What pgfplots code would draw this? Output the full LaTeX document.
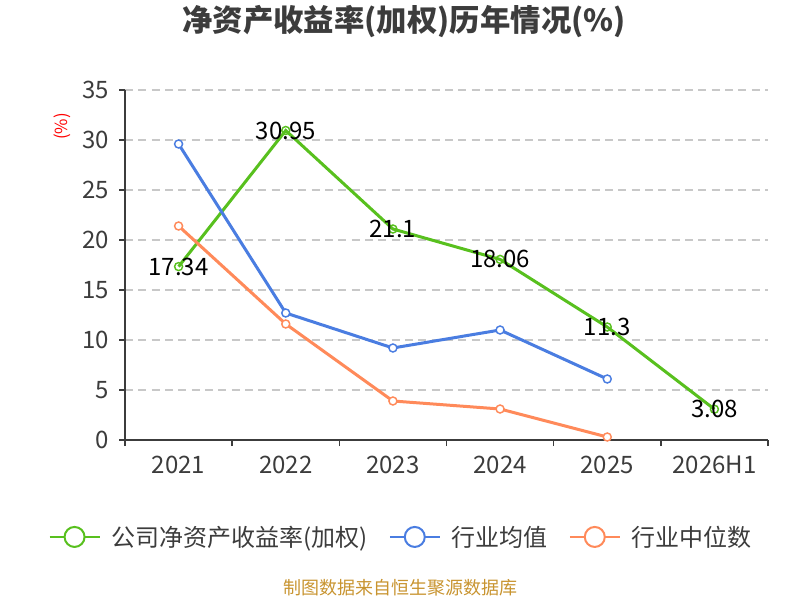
\documentclass[border=0pt]{standalone}
\usepackage{pgfplots}
\pgfplotsset{compat=1.18}
\usepackage{fontspec}
\setmainfont{Noto Sans CJK SC}
\definecolor{cgreen}{RGB}{88,192,30}
\definecolor{cblue}{RGB}{74,125,225}
\definecolor{corange}{RGB}{255,138,90}
\definecolor{ctext}{RGB}{60,60,60}
\definecolor{ctitle}{RGB}{60,60,60}
\definecolor{cgrid}{RGB}{200,200,200}
\definecolor{cfoot}{RGB}{200,148,48}
\begin{document}
\begin{tikzpicture}[x=1pt,y=1pt]
\path[use as bounding box] (0,0) rectangle (600,450);
\node[font=\fontsize{22.8}{27}\selectfont\bfseries, text=ctitle] at (303,433.5) {净资产收益率(加权)历年情况(\%)};
\node[rotate=90, text=red, font=\fontsize{12.5}{15}\selectfont] at (47,355) {(\%)};
\node[text=cfoot, font=\fontsize{13.5}{16}\selectfont] at (300,9) {制图数据来自恒生聚源数据库};
\begin{axis}[
  at={(93.75pt,120pt)}, anchor=south west,
  scale only axis, width=482.25pt, height=262.5pt,
  xmin=-0.5, xmax=5.5, ymin=0, ymax=35,
  axis x line*=bottom, axis y line*=left,
  axis line style={draw=ctext, line width=1.1pt},
  xtick={-0.5,0.5,...,5.5},
  xticklabels={2021,2022,2023,2024,2025,2026H1},
  x tick label as interval=true,
  ytick={0,5,...,35},
  tick align=outside,
  major tick length=4.5pt,
  tick style={draw=ctext, line width=1.1pt},
  ymajorgrids,
  grid style={draw=cgrid, line width=1.1pt, dash pattern=on 6pt off 4pt},
  ticklabel style={font=\fontsize{18}{21}\selectfont, text=ctext},
  /pgf/number format/assume math mode=true,
  xticklabel style={yshift=-4pt},
  yticklabel style={xshift=-4pt},
  every axis plot/.append style={line width=2.25pt},
  legend columns=3,
  legend image code/.code={
    \draw[line width=1.5pt] (0pt,0pt) -- (37.5pt,0pt);
    \draw[line width=1.5pt, fill=white] (18.75pt,0pt) circle (7.5pt);
  },
  legend style={
    at={(0.4277,-0.277)}, anchor=center, draw=none, fill=none,
    font=\fontsize{18}{21}\selectfont, text=ctext,
    nodes={inner xsep=0pt},
    /tikz/every odd column/.append style={column sep=8pt},
    /tikz/every even column/.append style={column sep=16pt},
  },
]
\addplot[color=cgreen, mark=o, mark size=3pt, mark options={fill=white, line width=1.1pt},
  nodes near coords, point meta=explicit symbolic,
  every node near coord/.append style={anchor=center, font=\fontsize{18}{21}\selectfont, text=black}]
  coordinates {(0,17.34)[17.34] (1,30.95)[30.95] (2,21.1)[21.1] (3,18.06)[18.06] (4,11.3)[11.3] (5,3.08)[3.08]};
\addlegendentry{公司净资产收益率(加权)}
\addplot[color=cblue, mark=*, mark size=3pt, mark options={fill=white, line width=1.1pt}]
  coordinates {(0,29.6) (1,12.7) (2,9.2) (3,11.0) (4,6.1)};
\addlegendentry{行业均值}
\addplot[color=corange, mark=*, mark size=3pt, mark options={fill=white, line width=1.1pt}]
  coordinates {(0,21.4) (1,11.6) (2,3.9) (3,3.1) (4,0.3)};
\addlegendentry{行业中位数}
\end{axis}
\end{tikzpicture}
\end{document}
